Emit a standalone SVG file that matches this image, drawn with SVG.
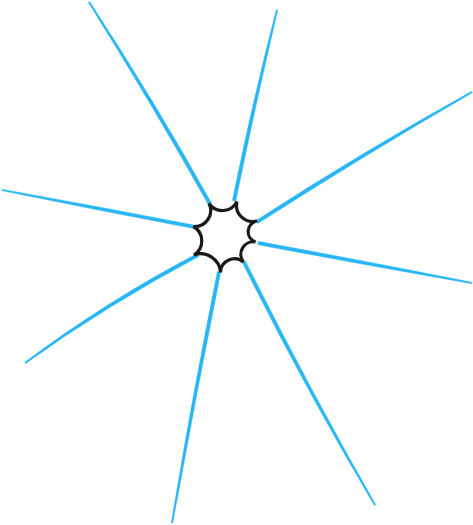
<svg xmlns="http://www.w3.org/2000/svg" width="473" height="525" viewBox="0 0 473 525">
<style>
.ray{fill:#29b6f6;stroke:#29b6f6;stroke-width:0.3;stroke-linejoin:round}
.hub{fill:none;stroke:#1a1a1a;stroke-width:3.2;stroke-linejoin:miter}
</style>
<rect width="473" height="525" fill="#ffffff"/>
<g id="connectors">
<path class="ray" d="M 211.54,203.07 Q 154.22,100.17 89.69,1.59 L 88.31,2.41 Q 150.78,102.23 208.46,204.93 Z"/>
<path class="ray" d="M 195.34,225.23 Q 98.88,206.54 2.15,189.21 L 1.85,190.79 Q 98.12,210.46 194.66,228.77 Z"/>
<path class="ray" d="M 235.76,201.4 Q 255.45,105.54 277.78,10.18 L 276.22,9.82 Q 251.55,104.66 232.24,200.6 Z"/>
<path class="ray" d="M 257.93,223.54 Q 363.64,155.61 472.41,92.68 L 471.59,91.32 Q 361.56,152.19 256.07,220.46 Z"/>
<path class="ray" d="M 257.67,244.77 Q 364.63,264.97 471.85,283.79 L 472.15,282.21 Q 365.37,261.03 258.33,241.23 Z"/>
<path class="ray" d="M 242.42,262.86 Q 303.84,386.55 374.3,505.38 L 375.7,504.62 Q 307.36,384.65 245.58,261.14 Z"/>
<path class="ray" d="M 197.05,253.47 Q 106.44,300.9 24.58,362.32 L 25.42,363.68 Q 108.56,304.3 198.95,256.53 Z"/>
<path class="ray" d="M 217.23,271.67 Q 191.93,396.83 171.21,522.85 L 172.79,523.15 Q 195.87,397.57 220.77,272.33 Z"/>
</g>
<g id="hub">
<path class="hub" d="M 209,203.5 A 16.3 16.3 0 0 0 237,201.5 A 16.2 16.2 0 0 0 257,221 A 10.9 10.9 0 0 0 255.5,242 A 12.5 12.5 0 0 0 243.5,262 A 14 14 0 0 0 220.5,272.5 A 19.8 19.8 0 0 0 194,255 A 16.7 16.7 0 0 0 193.5,226.5 A 16 16 0 0 0 209,203.5 Z"/>
</g>
</svg>
